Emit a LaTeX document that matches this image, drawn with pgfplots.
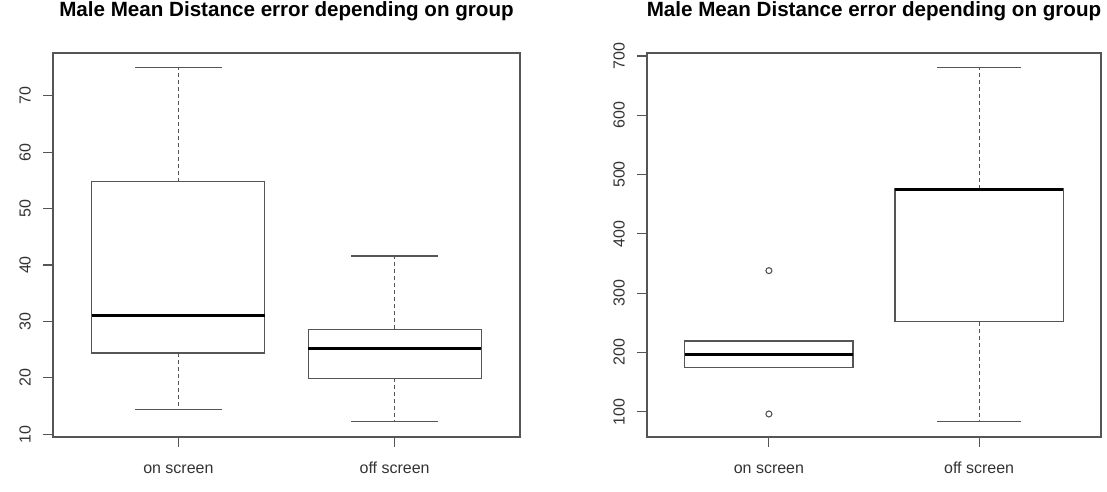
\documentclass[border=0pt]{standalone}
\usepackage{fontspec}
\setmainfont{Liberation Sans}
\usepackage{pgfplots}
\pgfplotsset{compat=1.18}
\usepgfplotslibrary{statistics}
\definecolor{rline}{HTML}{555555}
\definecolor{rtext}{HTML}{333333}
\pgfplotsset{
  boxplot/draw/lower whisker/.code={%
    \draw[/pgfplots/boxplot/every whisker/.try, dash pattern=on 4bp off 3bp]
      (boxplot box cs:\pgfplotsboxplotvalue{lower quartile},0.5) --
      (boxplot box cs:\pgfplotsboxplotvalue{lower whisker},0.5);
    \draw[/pgfplots/boxplot/every whisker/.try]
      (boxplot whisker cs:\pgfplotsboxplotvalue{lower whisker},0) --
      (boxplot whisker cs:\pgfplotsboxplotvalue{lower whisker},1);
  },
  boxplot/draw/upper whisker/.code={%
    \draw[/pgfplots/boxplot/every whisker/.try, dash pattern=on 4bp off 3bp]
      (boxplot box cs:\pgfplotsboxplotvalue{upper quartile},0.5) --
      (boxplot box cs:\pgfplotsboxplotvalue{upper whisker},0.5);
    \draw[/pgfplots/boxplot/every whisker/.try]
      (boxplot whisker cs:\pgfplotsboxplotvalue{upper whisker},0) --
      (boxplot whisker cs:\pgfplotsboxplotvalue{upper whisker},1);
  },
  rbox/.style={
    scale only axis,
    height=384bp,
    axis line style={rline, line width=1.1bp},
    xmin=0.42, xmax=2.58,
    xtick={1,2}, xticklabels={on screen, off screen},
    tick align=outside, major tick length=10bp,
    every tick/.style={rline, line width=1.1bp},
    xtick pos=bottom, ytick pos=left,
    minor tick num=0,
    ticklabel style={font=\fontsize{16bp}{19bp}\selectfont, text=rtext},
    yticklabel style={rotate=90, anchor=south, inner sep=0pt},
    xticklabel style={anchor=base, inner sep=0pt},
    yticklabel shift=12bp,
    xticklabel shift=26bp,
    /pgf/number format/assume math mode=true,
    every axis title/.style={at={(0.5,1)}, anchor=base, yshift=36bp,
      font=\bfseries\fontsize{20.6bp}{24bp}\selectfont, text=black},
    title={Male Mean Distance error depending on group},
    boxplot/draw direction=y,
    boxplot/box extend=0.8,
    boxplot/whisker extend=0.4,
    boxplot/every median/.style={black, line width=3bp},
  },
  rplot/.style={draw=rline, line width=1.1bp, solid, fill=none},
}
\begin{document}
\begin{tikzpicture}
\useasboundingbox (0,0) rectangle (1107bp,492bp);
\begin{axis}[rbox, at={(53bp,55bp)}, anchor=south west, width=467bp,
  ymin=9.5, ymax=77.6, ytick={10,20,30,40,50,60,70}]
\addplot[rplot, boxplot prepared={draw position=1,
  lower whisker=14.4, lower quartile=24.4, median=31.0,
  upper quartile=54.8, upper whisker=75.0}] coordinates {};
\addplot[rplot, boxplot prepared={draw position=2,
  lower whisker=12.2, lower quartile=19.9, median=25.2,
  upper quartile=28.6, upper whisker=41.6}] coordinates {};
\end{axis}
\begin{axis}[rbox, at={(647bp,55bp)}, anchor=south west, width=454bp,
  ymin=57.3, ymax=705, ytick={100,200,300,400,500,600,700}]
\addplot[rplot, boxplot prepared={draw position=1,
  lower whisker=174.2, lower quartile=174.2, median=196.8,
  upper quartile=219.3, upper whisker=219.3}] coordinates {};
\addplot[rplot, boxplot prepared={draw position=2,
  lower whisker=83.1, lower quartile=251.8, median=474.0,
  upper quartile=476.0, upper whisker=679.8}] coordinates {};
\addplot[only marks, mark=o, mark size=3bp, draw=rline,
  mark options={line width=1.1bp, solid}] coordinates {(1,337.9) (1,96.1)};
\end{axis}
\end{tikzpicture}
\end{document}
